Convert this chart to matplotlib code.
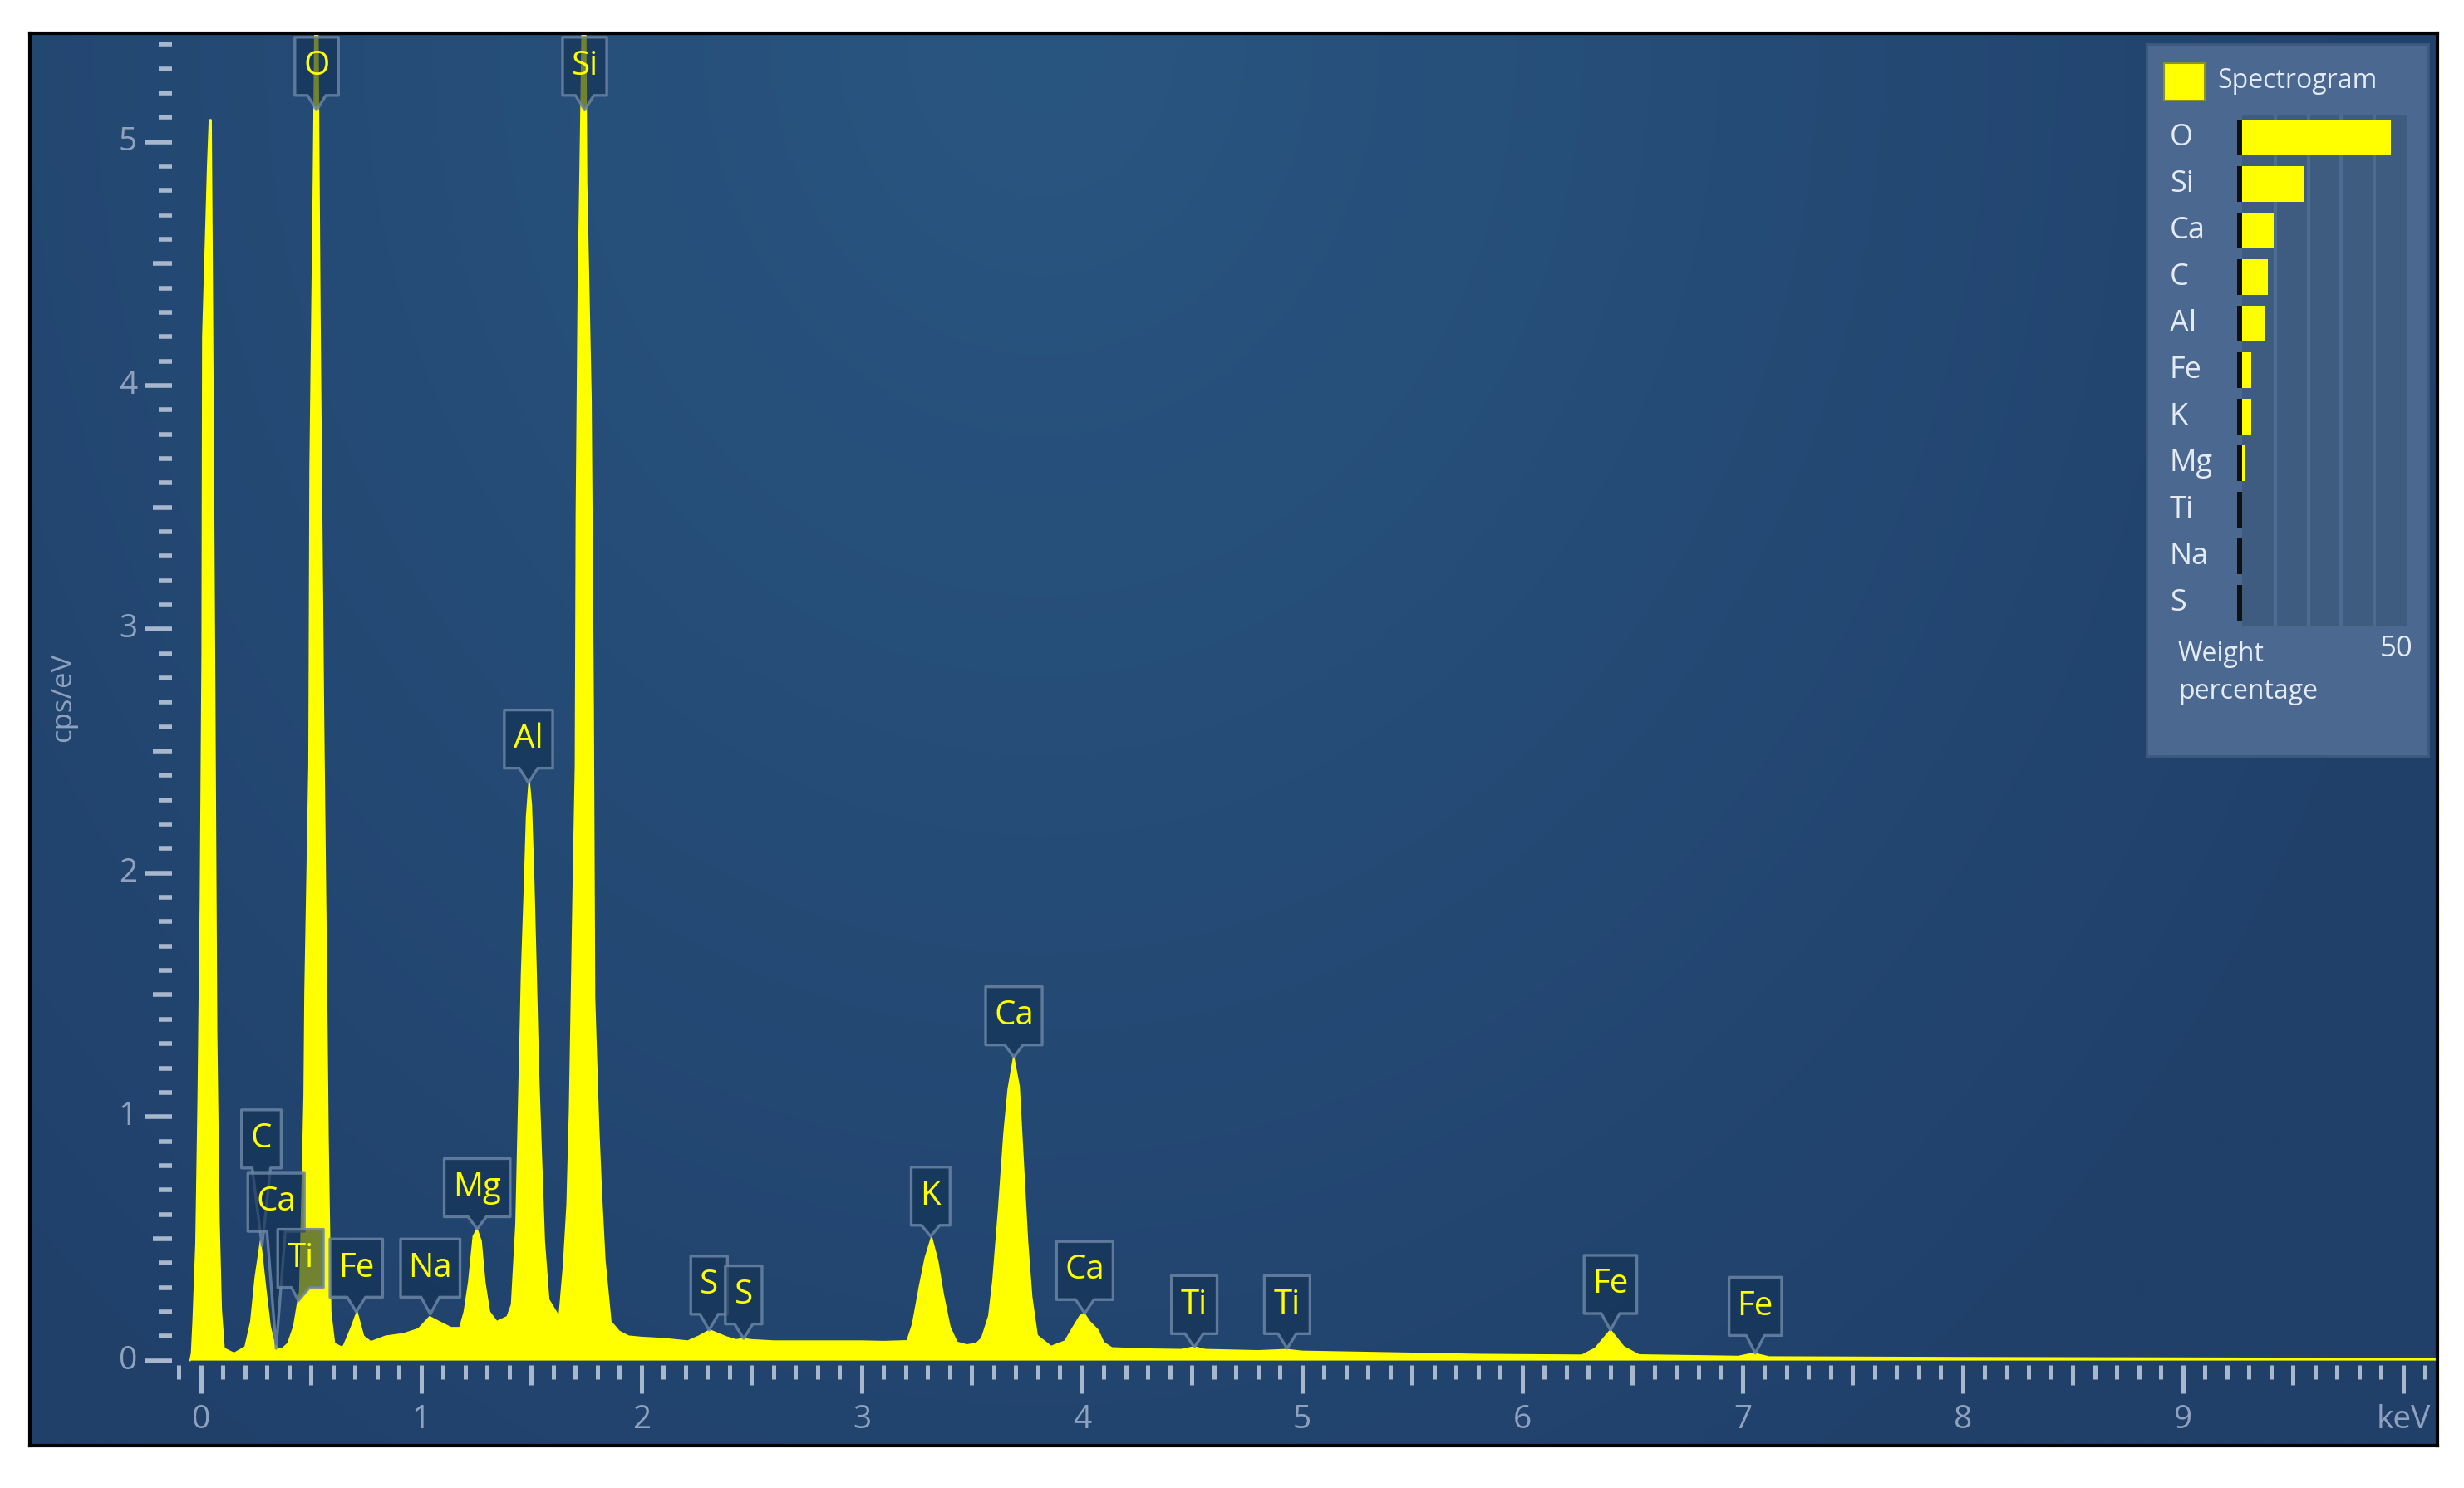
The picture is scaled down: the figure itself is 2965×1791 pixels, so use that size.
import numpy as np
import matplotlib.pyplot as plt
from matplotlib.patches import Polygon, Rectangle
from matplotlib.textpath import TextPath
from matplotlib.font_manager import FontProperties

plt.rcParams['font.family'] = ['Open Sans', 'DejaVu Sans']

# spectrum (keV, cps/eV)
energy = [-0.05, -0.043, -0.036, -0.023, -0.013, -0.003, 0.005, 0.008, 0.030, 0.038,
          0.046, 0.052, 0.062, 0.071, 0.082, 0.092, 0.105, 0.150, 0.200, 0.226,
          0.246, 0.270, 0.293, 0.314, 0.334, 0.354, 0.370, 0.394, 0.421, 0.441,
          0.448, 0.455, 0.468, 0.472, 0.490, 0.495, 0.509, 0.525, 0.540, 0.553,
          0.556, 0.567, 0.577, 0.589, 0.606, 0.637, 0.647, 0.684, 0.708, 0.738,
          0.771, 0.838, 0.919, 0.987, 1.038, 1.080, 1.135, 1.175, 1.195, 1.215,
          1.236, 1.253, 1.272, 1.289, 1.310, 1.343, 1.390, 1.410, 1.430, 1.444,
          1.455, 1.468, 1.478, 1.490, 1.500, 1.511, 1.522, 1.532, 1.545, 1.559,
          1.579, 1.626, 1.646, 1.662, 1.673, 1.684, 1.692, 1.700, 1.704, 1.713,
          1.724, 1.742, 1.751, 1.771, 1.778, 1.781, 1.787, 1.805, 1.818, 1.834,
          1.861, 1.899, 1.942, 2.000, 2.100, 2.210, 2.260, 2.310, 2.350, 2.385,
          2.430, 2.460, 2.500, 2.600, 2.800, 3.000, 3.100, 3.206, 3.231, 3.263,
          3.288, 3.317, 3.345, 3.370, 3.401, 3.433, 3.477, 3.520, 3.545, 3.577,
          3.596, 3.621, 3.646, 3.665, 3.690, 3.715, 3.734, 3.753, 3.772, 3.797,
          3.860, 3.923, 3.960, 3.991, 4.010, 4.035, 4.073, 4.098, 4.136, 4.300,
          4.450, 4.510, 4.560, 4.800, 4.930, 5.000, 5.500, 5.800, 6.270, 6.330,
          6.400, 6.460, 6.530, 6.980, 7.050, 7.120, 8.000, 9.000, 10.160]
cps = [0.0, 0.03, 0.16, 0.48, 1.07, 1.88, 2.9, 4.2, 4.9, 5.09,
       5.09, 4.3, 2.8, 1.35, 0.57, 0.21, 0.05, 0.03, 0.056, 0.16,
       0.34, 0.49, 0.30, 0.14, 0.065, 0.047, 0.05, 0.07, 0.14, 0.25,
       0.284, 0.547, 1.09, 1.51, 2.44, 3.66, 4.74, 6.2, 4.29, 2.98,
       2.67, 1.78, 0.90, 0.20, 0.07, 0.056, 0.06, 0.14, 0.20, 0.10,
       0.077, 0.10, 0.11, 0.13, 0.18, 0.16, 0.135, 0.135, 0.20, 0.32,
       0.51, 0.54, 0.49, 0.32, 0.20, 0.16, 0.18, 0.23, 0.56, 1.14,
       1.58, 1.93, 2.23, 2.38, 2.28, 1.97, 1.58, 1.20, 0.85, 0.49,
       0.25, 0.18, 0.39, 0.64, 1.02, 1.62, 2.05, 2.44, 3.47, 4.41,
       5.06, 6.2, 4.83, 3.94, 3.02, 2.67, 1.49, 0.97, 0.69, 0.41,
       0.16, 0.12, 0.10, 0.095, 0.09, 0.08, 0.10, 0.125, 0.11, 0.097,
       0.085, 0.09, 0.085, 0.08, 0.08, 0.08, 0.078, 0.081, 0.149, 0.308,
       0.42, 0.507, 0.41, 0.274, 0.137, 0.075, 0.064, 0.07, 0.092, 0.183,
       0.33, 0.614, 0.933, 1.114, 1.245, 1.125, 0.807, 0.49, 0.262, 0.103,
       0.058, 0.08, 0.137, 0.183, 0.194, 0.16, 0.125, 0.075, 0.052, 0.047,
       0.045, 0.056, 0.045, 0.04, 0.045, 0.038, 0.03, 0.025, 0.022, 0.05,
       0.125, 0.057, 0.023, 0.017, 0.03, 0.015, 0.012, 0.01, 0.008]

# peak tags: text, tip (keV, cps/eV), box centre keV, box bottom cps/eV
tag_text = ['O', 'Si', 'Al', 'C', 'Ca', 'Ti', 'Fe', 'Na', 'Mg',
            'S', 'S', 'K', 'Ca', 'Ca', 'Ti', 'Ti', 'Fe', 'Fe']
tag_tip_e = [0.525, 1.742, 1.487, 0.277, 0.341, 0.442, 0.705, 1.041, 1.254,
             2.307, 2.464, 3.313, 3.691, 4.013, 4.510, 4.932, 6.400, 7.058]
tag_tip_y = [5.13, 5.13, 2.37, 0.47, 0.05, 0.246, 0.20, 0.19, 0.54,
             0.125, 0.09, 0.51, 1.245, 0.194, 0.055, 0.05, 0.125, 0.03]
tag_box_e = [0.525, 1.742, 1.487, 0.274, 0.341, 0.452, 0.705, 1.041, 1.254,
             2.307, 2.464, 3.313, 3.691, 4.013, 4.510, 4.932, 6.400, 7.058]
tag_box_y = [5.19, 5.19, 2.43, 0.79, 0.53, 0.30, 0.26, 0.26, 0.59,
             0.19, 0.15, 0.555, 1.295, 0.25, 0.11, 0.11, 0.193, 0.103]

# weight percentage panel
elements = ['O', 'Si', 'Ca', 'C', 'Al', 'Fe', 'K', 'Mg', 'Ti', 'Na', 'S']
weight_pct = [45.0, 18.8, 9.6, 7.9, 6.9, 2.8, 2.8, 0.9, 0.1, 0.1, 0.05]

W, H, DPI = 2965, 1791, 100
YELLOW = '#ffff00'
TICK_C = '#a9b7cc'
LABEL_C = '#8fa1bc'
TAG_FS = 29

fig = plt.figure(figsize=(W / DPI, H / DPI), dpi=DPI)
fig.patch.set_facecolor('white')


def fx(px):
    return px / W


def fy(py):
    return 1 - py / H


ax = fig.add_axes([fx(36), fy(1740), fx(2933 - 36), (1740 - 40) / H])

# background gradient
gx, gy = np.meshgrid(np.linspace(0, 1, 500), np.linspace(0, 1, 300))
r = np.clip(np.sqrt(((gx - 0.42) / 0.62) ** 2 + ((gy - 1.0) / 1.25) ** 2), 0, 1)
light = np.array([41, 86, 129]) / 255
dark = np.array([32, 64, 106]) / 255
img = light * (1 - r)[..., None] + dark * r[..., None]
ax.imshow(img, extent=[0, 1, 0, 1], transform=ax.transAxes, origin='lower',
          aspect='auto', zorder=0, interpolation='bilinear')

ax.set_xlim(-0.777, 10.155)
ax.set_ylim(-0.349, 5.445)
ax.set_xticks([])
ax.set_yticks([])
for s in ax.spines.values():
    s.set_color('black')
    s.set_linewidth(3)

ax.fill_between(energy, cps, 0, color=YELLOW, lw=0, zorder=2)
ax.plot(energy, cps, color=YELLOW, lw=1.2, zorder=2)

# x ticks (0.1 keV minor, 0.5 medium, 1 major)
xt = np.round(np.arange(-0.1, 10.11, 0.1), 2)
for v in xt:
    k = int(round(v * 10))
    if k % 10 == 0:
        y1 = -0.133
    elif k % 5 == 0:
        y1 = -0.099
    else:
        y1 = -0.075
    ax.plot([v, v], [-0.02, y1], color=TICK_C, lw=3.6, solid_capstyle='butt', zorder=3)
for i in range(10):
    ax.text(i, -0.242, str(i), color=LABEL_C, fontsize=28, ha='center', va='center')
ax.text(10.0, -0.242, 'keV', color=LABEL_C, fontsize=28, ha='center', va='center')

# y ticks
yt = np.round(np.arange(0, 5.41, 0.1), 2)
for v in yt:
    k = int(round(v * 10))
    if k % 10 == 0:
        x0 = -0.256
    elif k % 5 == 0:
        x0 = -0.218
    else:
        x0 = -0.192
    ax.plot([x0, -0.132], [v, v], color=TICK_C, lw=4.0, solid_capstyle='butt', zorder=3)
for i in range(6):
    ax.text(-0.29, i, str(i), color=LABEL_C, fontsize=28, ha='right', va='center')
ax.text(-0.626, 2.72, 'cps/eV', color=LABEL_C, fontsize=25, rotation=90,
        ha='center', va='center')

# peak tags
tag_font = FontProperties(family='Open Sans')


def draw_tag(label, tip_e, tip_y, box_e, box_y):
    tr = ax.transData
    tx, ty = tr.transform((tip_e, tip_y))
    cx, by = tr.transform((box_e, box_y))
    tw = TextPath((0, 0), label, size=TAG_FS, prop=tag_font).get_extents().width * DPI / 72
    half = tw / 2 + 13
    h = 70
    nib = 11
    pts = [(cx - half, by), (cx - nib, by), (tx, ty), (cx + nib, by), (cx + half, by),
           (cx + half, by + h), (cx - half, by + h)]
    verts = tr.inverted().transform(pts)
    ax.add_patch(Polygon(verts, closed=True, facecolor=(0.07, 0.19, 0.32, 0.6),
                         edgecolor=(0.42, 0.52, 0.64, 0.85), lw=2.4,
                         joinstyle='round', zorder=4))
    mx, my = tr.inverted().transform((cx, by + h / 2))
    ax.text(mx, my, label, color=YELLOW, fontsize=TAG_FS, ha='center',
            va='center', zorder=5)


for t, te, ty_, be, by_ in zip(tag_text, tag_tip_e, tag_tip_y, tag_box_e, tag_box_y):
    draw_tag(t, te, ty_, be, by_)

# legend panel
pan = fig.add_axes([fx(2583), fy(910), fx(2922 - 2583), (910 - 53) / H])
pan.set_facecolor('#4a6890')
pan.set_xticks([])
pan.set_yticks([])
for s in pan.spines.values():
    s.set_color('#3d5a7e')
    s.set_linewidth(2)

bars = fig.add_axes([fx(2698), fy(753), fx(2897 - 2698), (753 - 138) / H])
bars.set_facecolor('#3e5c80')
bars.set_xlim(0, 50)
bars.set_ylim(len(elements) - 0.5, -0.5)
bars.set_xticks([])
bars.set_yticks([])
for s in bars.spines.values():
    s.set_visible(False)
for g in [10, 20, 30, 40]:
    bars.axvline(g, color='#4d6c92', lw=3, zorder=1)
rows = np.arange(len(elements))
bars.barh(rows, weight_pct, height=0.77, color=YELLOW, zorder=3)
bars.barh(rows, [1.45] * len(elements), left=-1.45, height=0.77, color='#111111',
          zorder=3, clip_on=False)

fig.patches.append(Rectangle((fx(2604), fy(121)), fx(49), 45 / H, transform=fig.transFigure,
                             facecolor=YELLOW, edgecolor='#8f8f2a', lw=1.5, zorder=5))
TXT_C = '#e4eaf2'
fig.text(fx(2668), fy(98), 'Spectrogram', color=TXT_C, fontsize=23, ha='left', va='center', zorder=6)
for i, el in enumerate(elements):
    fig.text(fx(2611), fy(166 + 56 * i), el, color=TXT_C, fontsize=26, ha='left',
             va='center', zorder=6)
fig.text(fx(2621), fy(787), 'Weight', color=TXT_C, fontsize=23, ha='left', va='center', zorder=6)
fig.text(fx(2621), fy(832), 'percentage', color=TXT_C, fontsize=23, ha='left', va='center', zorder=6)
fig.text(fx(2904), fy(781), '50', color=TXT_C, fontsize=25, ha='right', va='center', zorder=6)

fig.savefig('out.png', dpi=DPI)
